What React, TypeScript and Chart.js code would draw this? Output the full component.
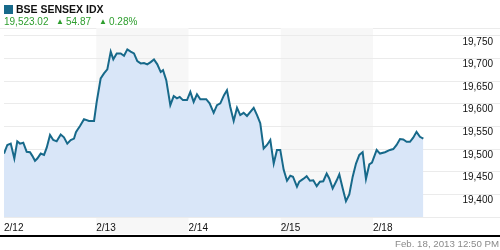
import React, { useEffect, useRef } from "react";
import { Chart, registerables } from "chart.js";

Chart.register(...registerables);

// Trading-day labels (one per session)
const dayLabels = ["2/12", "2/13", "2/14", "2/15", "2/18"];

// Time, in sessions since 2/12 open (integer = session start)
const times = [
  0.0, 0.036, 0.073, 0.112, 0.144, 0.173, 0.209, 0.246, 0.282, 0.307, 0.336, 0.361, 0.398, 0.434,
  0.463, 0.499, 0.534, 0.571, 0.615, 0.65, 0.686, 0.723, 0.759, 0.78, 0.795, 0.824, 0.867, 0.921, 0.976,
  1.005, 1.048, 1.084, 1.12, 1.157, 1.185, 1.222, 1.265, 1.301, 1.337, 1.373, 1.409, 1.445, 1.482,
  1.518, 1.553, 1.59, 1.626, 1.662, 1.699, 1.724, 1.759, 1.803, 1.84, 1.875, 1.905, 1.94, 1.984,
  2.02, 2.056, 2.092, 2.128, 2.192, 2.229, 2.273, 2.309, 2.345, 2.385, 2.417, 2.453, 2.49, 2.526,
  2.561, 2.598, 2.634, 2.707, 2.743, 2.778, 2.815, 2.851, 2.887, 2.924, 2.959, 2.995,
  3.032, 3.068, 3.104, 3.133, 3.176, 3.201, 3.244, 3.281, 3.317, 3.353, 3.39, 3.425, 3.461, 3.498,
  3.526, 3.563, 3.607, 3.635, 3.672, 3.707, 3.743, 3.78, 3.816, 3.852, 3.888, 3.924, 3.96, 3.989,
  4.04, 4.076, 4.13, 4.184, 4.22, 4.256, 4.293, 4.328, 4.365, 4.401, 4.436, 4.472, 4.509, 4.546,
];

// BSE Sensex index level
const values = [
  19490, 19509, 19512, 19479, 19517, 19512, 19514, 19494, 19493, 19485, 19474, 19479, 19490, 19487,
  19503, 19531, 19520, 19517, 19532, 19526, 19512, 19520, 19523, 19537, 19542, 19551, 19566, 19562, 19562,
  19604, 19656, 19667, 19676, 19715, 19698, 19711, 19711, 19706, 19720, 19715, 19711, 19694, 19689,
  19690, 19687, 19692, 19698, 19687, 19670, 19674, 19652, 19597, 19617, 19612, 19615, 19608, 19608,
  19626, 19604, 19621, 19610, 19610, 19601, 19580, 19597, 19601, 19619, 19630, 19593, 19562, 19591,
  19575, 19580, 19573, 19591, 19575, 19557, 19501, 19509, 19520, 19468, 19498, 19498,
  19454, 19430, 19441, 19439, 19417, 19428, 19434, 19440, 19430, 19431, 19418, 19428, 19429, 19446,
  19435, 19413, 19431, 19444, 19413, 19385, 19400, 19439, 19468, 19487, 19493, 19434, 19466, 19470,
  19498, 19490, 19493, 19498, 19500, 19509, 19522, 19521, 19516, 19516, 19525, 19538, 19527, 19523.02,
];

const yTickValues = [19350, 19400, 19450, 19500, 19550, 19600, 19650, 19700, 19750];
const shadedSessions = [1, 3];

const LINE = "#17698a";
const FILL = "#d9e6f8";
const GREEN = "#2e9e2e";
const TICK_FONT = "'Liberation Sans', Arial, sans-serif";

export default function App() {
  const ref = useRef<HTMLCanvasElement | null>(null);

  useEffect(() => {
    if (!ref.current) return;
    const bands = {
      id: "bands",
      beforeDraw(chart: any) {
        const { ctx, chartArea, scales } = chart;
        const x = scales.x;
        ctx.save();
        ctx.fillStyle = "#ebebeb";
        ctx.fillRect(0, chartArea.top - 1, chart.width, 1);
        ctx.fillStyle = "#f7f7f7";
        for (const d of shadedSessions) {
          const x0 = x.getPixelForValue(d);
          const x1 = x.getPixelForValue(d + 1);
          ctx.fillRect(x0, chartArea.top - 1, x1 - x0, 235 - chartArea.top);
        }
        ctx.restore();
      },
    };
    const chart = new Chart(ref.current, {
      type: "line",
      data: {
        datasets: [
          {
            data: times.map((t, i) => ({ x: t, y: values[i] })),
            borderColor: LINE,
            backgroundColor: FILL,
            borderWidth: 2,
            fill: "start",
            pointRadius: 0,
            tension: 0,
          },
        ],
      },
      options: {
        responsive: false,
        animation: false,
        devicePixelRatio: 1,
        layout: { padding: { top: 29, left: 4, right: 0, bottom: 0 } },
        plugins: { legend: { display: false }, tooltip: { enabled: false } },
        scales: {
          x: {
            type: "linear",
            min: 0,
            max: 5.377,
            grid: { display: false },
            border: { display: false },
            afterBuildTicks: (s: any) => {
              s.ticks = dayLabels.map((_, i) => ({ value: i }));
            },
            afterFit: (s: any) => {
              s.height = 33;
            },
            ticks: {
              autoSkip: false,
              maxRotation: 0,
              align: "start",
              padding: -3,
              color: "#111",
              font: { family: TICK_FONT, size: 10 },
              callback: (v: any) => dayLabels[v] ?? "",
            },
          },
          y: {
            type: "linear",
            position: "right",
            min: 19350,
            max: 19765,
            grid: { color: "#ebebeb", drawTicks: false },
            border: { display: false },
            afterBuildTicks: (s: any) => {
              s.ticks = yTickValues.map((v) => ({ value: v }));
            },
            afterFit: (s: any) => {
              s.width = 0;
            },
            ticks: {
              mirror: true,
              padding: -7,
              labelOffset: 6,
              color: "#111",
              font: { family: TICK_FONT, size: 10 },
              callback: (v: any) => (v === 19350 ? "" : Number(v).toLocaleString("en-US")),
            },
          },
        },
      },
      plugins: [bands],
    });
    return () => chart.destroy();
  }, []);

  const abs = (s: React.CSSProperties): React.CSSProperties => ({ position: "absolute", whiteSpace: "nowrap", ...s });

  return (
    <div style={{ position: "absolute", left: 0, top: 0, width: 500, height: 250, background: "#fff", overflow: "hidden", fontFamily: "Arial, 'Liberation Sans', sans-serif" }}>
      <canvas ref={ref} width={500} height={250} style={{ position: "absolute", left: 0, top: 0, width: 500, height: 250, display: "block" }} />
      <div style={abs({ left: 4, top: 5, width: 9, height: 9, background: LINE })} />
      <div style={abs({ left: 16, top: 2, fontSize: 10.5, fontWeight: "bold", lineHeight: "15px", color: "#111" })}>BSE SENSEX IDX</div>
      <div style={abs({ left: 4, top: 15, fontSize: 10, lineHeight: "14px", color: GREEN })}>19,523.02</div>
      <div style={abs({ left: 56, top: 15, fontSize: 8, lineHeight: "14px", color: GREEN })}>▲</div>
      <div style={abs({ left: 66, top: 15, fontSize: 10, lineHeight: "14px", color: GREEN })}>54.87</div>
      <div style={abs({ left: 99, top: 15, fontSize: 8, lineHeight: "14px", color: GREEN })}>▲</div>
      <div style={abs({ left: 109, top: 15, fontSize: 10, lineHeight: "14px", color: GREEN })}>0.28%</div>
      <div style={abs({ left: 0, top: 235, width: 500, height: 2, background: "#000" })} />
      <div style={abs({ right: 1, top: 238, fontSize: 9.7, lineHeight: "12px", color: "#8a8a8a" })}>Feb. 18, 2013 12:50 PM</div>
    </div>
  );
}
